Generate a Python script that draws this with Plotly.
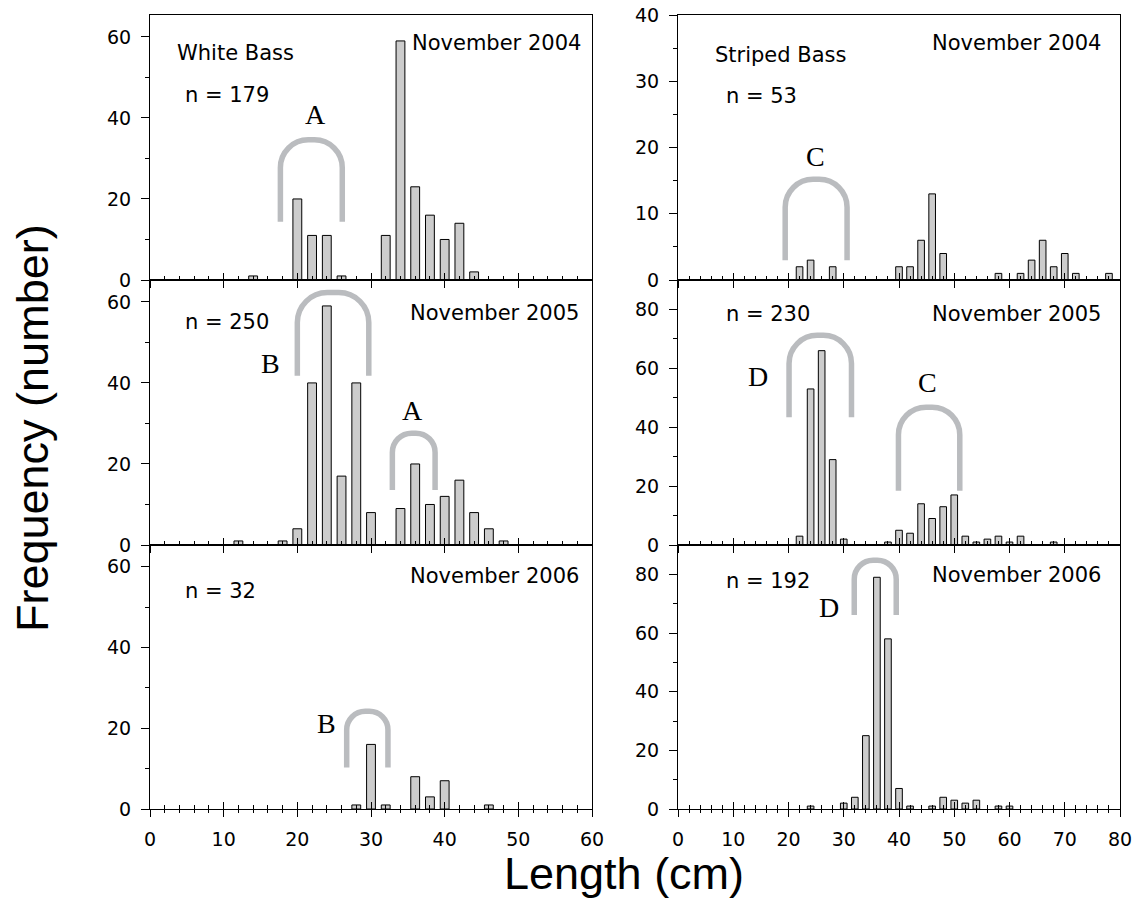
import plotly.graph_objects as go

# Length-frequency counts in 2-cm length classes (class midpoint, cm)
wb_2004_len = [14, 20, 22, 24, 26, 32, 34, 36, 38, 40, 42, 44]
wb_2004_cnt = [1, 20, 11, 11, 1, 11, 59, 23, 16, 10, 14, 2]
wb_2005_len = [12, 18, 20, 22, 24, 26, 28, 30, 34, 36, 38, 40, 42, 44, 46, 48]
wb_2005_cnt = [1, 1, 4, 40, 59, 17, 40, 8, 9, 20, 10, 12, 16, 8, 4, 1]
wb_2006_len = [28, 30, 32, 36, 38, 40, 46]
wb_2006_cnt = [1, 16, 1, 8, 3, 7, 1]

sb_2004_len = [22, 24, 28, 40, 42, 44, 46, 48, 58, 62, 64, 66, 68, 70, 72, 78]
sb_2004_cnt = [2, 3, 2, 2, 2, 6, 13, 4, 1, 1, 3, 6, 2, 4, 1, 1]
sb_2005_len = [22, 24, 26, 28, 30, 38, 40, 42, 44, 46, 48, 50, 52, 54, 56, 58, 60, 62, 68]
sb_2005_cnt = [3, 53, 66, 29, 2, 1, 5, 4, 14, 9, 13, 17, 3, 1, 2, 3, 1, 3, 1]
sb_2006_len = [24, 30, 32, 34, 36, 38, 40, 42, 46, 48, 50, 52, 54, 58, 60]
sb_2006_cnt = [1, 2, 4, 25, 79, 58, 7, 1, 1, 4, 3, 2, 3, 1, 1]

species = ["White Bass", "Striped Bass"]
months = ["November 2004", "November 2005", "November 2006"]
sample_sizes = [[179, 53], [250, 230], [32, 192]]

# panel order: row-major (top-left, top-right, middle-left, ...)
panel_data = [
    (wb_2004_len, wb_2004_cnt), (sb_2004_len, sb_2004_cnt),
    (wb_2005_len, wb_2005_cnt), (sb_2005_len, sb_2005_cnt),
    (wb_2006_len, wb_2006_cnt), (sb_2006_len, sb_2006_cnt),
]

# year-class brackets: panel, letter, left/right length, bottom/top frequency, letter position
cohorts = [
    (1, "A", 17.7, 26.1, 14.4, 34.6, 22.4, 40.9),
    (3, "B", 20.0, 29.7, 41.8, 62.3, 16.4, 44.9),
    (3, "A", 32.9, 38.7, 13.6, 27.6, 35.7, 33.3),
    (5, "B", 26.7, 32.3, 10.3, 24.2, 24.0, 21.1),
    (2, "C", 19.4, 30.6, 3.0, 15.2, 24.9, 18.6),
    (4, "D", 20.1, 31.4, 43.4, 71.2, 14.4, 57.2),
    (4, "C", 39.9, 51.0, 18.4, 46.8, 45.2, 55.3),
    (6, "D", 31.9, 39.5, 66.1, 84.8, 27.4, 68.6),
]

W, H = 1136, 922
col_px = [(150, 592), (678, 1120)]
row_px = [(15, 280), (280, 545), (545, 809)]
x_ranges = [[0, 60], [0, 80]]
y_ranges = [[[0, 65.4], [0, 40]], [[0, 65.4], [0, 90]], [[0, 65.4], [0, 90]]]
y_dticks = [[(20, 10), (10, 5)], [(20, 10), (20, 10)], [(20, 10), (20, 10)]]

TICK_FONT = dict(family="DejaVu Sans", size=19, color="black")
TEXT_FONT = dict(family="DejaVu Sans", size=21, color="black")
LETTER_FONT = dict(family="Liberation Serif", size=28, color="black")
TITLE_FONT = dict(family="Liberation Sans", size=45, color="black")
BAR_FILL = "#cccccc"
BRACKET_COLOR = "#babcbf"

fig = go.Figure()
layout = {}
shapes = []
annotations = []


def bracket_path(x0, x1, yb, yt, ppx, ppy):
    r_px = min(0.45 * (x1 - x0) * ppx, 30)
    rx, ry = r_px / ppx, r_px / ppy
    k = 0.5523
    return (f"M {x0},{yb} L {x0},{yt - ry} "
            f"C {x0},{yt - ry + k * ry} {x0 + rx - k * rx},{yt} {x0 + rx},{yt} "
            f"L {x1 - rx},{yt} "
            f"C {x1 - rx + k * rx},{yt} {x1},{yt - ry + k * ry} {x1},{yt - ry} "
            f"L {x1},{yb}")


scales = {}
for r in range(3):
    for c in range(2):
        i = r * 2 + c + 1
        sfx = "" if i == 1 else str(i)
        ov = i + 6
        l, rr = col_px[c]
        t, b = row_px[r]
        xr = x_ranges[c]
        yr = y_ranges[r][c]
        dt, mdt = y_dticks[r][c]
        bottom_row = r == 2
        scales[i] = ((rr - l) / (xr[1] - xr[0]), (b - t) / (yr[1] - yr[0]))

        xs, ys = panel_data[i - 1]
        fig.add_trace(go.Bar(
            x=xs, y=ys, width=1.2, xaxis=f"x{sfx}", yaxis=f"y{sfx}",
            marker=dict(color=BAR_FILL, line=dict(color="black", width=1)),
            showlegend=False, hoverinfo="x+y",
        ))
        # companion axis carrying the outward half of the x ticks
        fig.add_trace(go.Scatter(x=[None], y=[None], xaxis=f"x{ov}", yaxis=f"y{sfx}",
                                 showlegend=False, hoverinfo="skip"))

        layout[f"xaxis{sfx}"] = dict(
            domain=[l / W, rr / W], range=xr, anchor=f"y{sfx}", automargin=False,
            showline=True, linecolor="black", linewidth=1, mirror=True,
            showgrid=False, zeroline=False,
            tick0=0, dtick=10, ticks="inside", ticklen=7, tickcolor="black",
            minor=dict(dtick=2, ticks="inside", ticklen=4, tickcolor="black"),
            showticklabels=False,
        )
        outer = dict(
            domain=[l / W, rr / W], range=xr, anchor=f"y{sfx}", automargin=False,
            overlaying=f"x{sfx}", side="bottom",
            showline=False, showgrid=False, zeroline=False,
            tick0=0, dtick=10, ticks="outside", ticklen=7, tickcolor="black",
            showticklabels=bottom_row, tickfont=TICK_FONT, ticklabelstandoff=6,
        )
        if bottom_row:
            outer["minor"] = dict(dtick=2, ticks="outside", ticklen=3, tickcolor="black")
        layout[f"xaxis{ov}"] = outer
        layout[f"yaxis{sfx}"] = dict(
            domain=[(H - b) / H, (H - t) / H], range=yr, anchor=f"x{sfx}",
            automargin=False,
            showline=True, linecolor="black", linewidth=1, mirror=True,
            showgrid=False, zeroline=False,
            tick0=0, dtick=dt, ticks="outside", ticklen=8, tickcolor="black",
            minor=dict(dtick=mdt, ticks="outside", ticklen=4, tickcolor="black"),
            tickfont=TICK_FONT, ticklabelstandoff=6,
        )

# panel texts (domain fractions)
n_pos = [[(0.0754, 0.699), (0.105, 0.695)],
         [(0.0754, 0.843), (0.105, 0.872)],
         [(0.0754, 0.826), (0.105, 0.864)]]
m_pos = [[(0.979, 0.893), (0.962, 0.896)],
         [(0.974, 0.874), (0.962, 0.872)],
         [(0.974, 0.884), (0.962, 0.888)]]
sp_pos = [(0.0566, 0.855), (0.080, 0.850)]

for r in range(3):
    for c in range(2):
        i = r * 2 + c + 1
        sfx = "" if i == 1 else str(i)
        nx, ny = n_pos[r][c]
        mx, my = m_pos[r][c]
        annotations.append(dict(text=f"n = {sample_sizes[r][c]}", xref=f"x{sfx} domain",
                                yref=f"y{sfx} domain", x=nx, y=ny, xanchor="left",
                                yanchor="middle", showarrow=False, font=TEXT_FONT))
        annotations.append(dict(text=months[r], xref=f"x{sfx} domain",
                                yref=f"y{sfx} domain", x=mx, y=my, xanchor="right",
                                yanchor="middle", showarrow=False, font=TEXT_FONT))
        if r == 0:
            sx, sy = sp_pos[c]
            annotations.append(dict(text=species[c], xref=f"x{sfx} domain",
                                    yref=f"y{sfx} domain", x=sx, y=sy, xanchor="left",
                                    yanchor="middle", showarrow=False, font=TEXT_FONT))

for panel, letter, x0, x1, yb, yt, lx, ly in cohorts:
    sfx = "" if panel == 1 else str(panel)
    ppx, ppy = scales[panel]
    shapes.append(dict(type="path", xref=f"x{sfx}", yref=f"y{sfx}",
                       path=bracket_path(x0, x1, yb, yt, ppx, ppy),
                       line=dict(color=BRACKET_COLOR, width=5.5), layer="above"))
    annotations.append(dict(text=letter, xref=f"x{sfx}", yref=f"y{sfx}", x=lx, y=ly,
                            xanchor="center", yanchor="middle", showarrow=False,
                            font=LETTER_FONT))

annotations.append(dict(text="Frequency (number)", xref="paper", yref="paper",
                        x=32 / W, y=1 - 428 / H, textangle=-90, xanchor="center",
                        yanchor="middle", showarrow=False, font=TITLE_FONT))
annotations.append(dict(text="Length (cm)", xref="paper", yref="paper",
                        x=624 / W, y=1 - 873 / H, xanchor="center", yanchor="middle",
                        showarrow=False, font=TITLE_FONT))

fig.update_layout(
    width=W, height=H, margin=dict(l=0, r=0, t=0, b=0, autoexpand=False),
    paper_bgcolor="white", plot_bgcolor="white",
    shapes=shapes, annotations=annotations, **layout,
)

fig.write_html("out.html")
